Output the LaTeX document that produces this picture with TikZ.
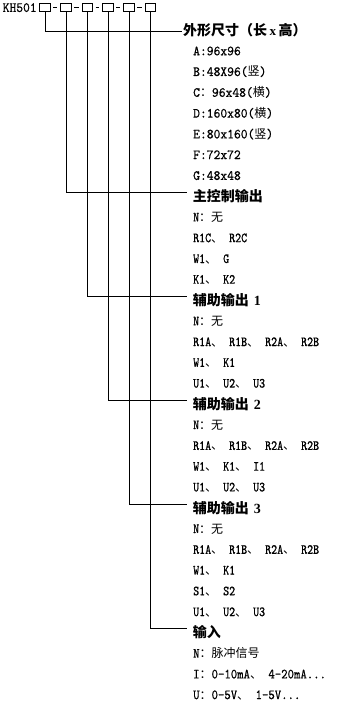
\documentclass[tikz,border=0pt]{standalone}
\usepackage{fontspec}
\newfontfamily\cjkf{Noto Sans CJK SC}
\newfontfamily\latA{lmmono10-regular.otf}[FakeStretch=0.925, FakeBold=0.6]
\newfontfamily\latB{lmmono10-regular.otf}[FakeStretch=0.816, FakeBold=0.6]
\newfontfamily\latC{lmmono10-regular.otf}[FakeStretch=0.871, FakeBold=0.6]
\newfontfamily\serb{Liberation Serif}
\newcommand\hz[1]{{\cjkf\fontsize{12}{12}\selectfont #1}}
\newcommand\bnum[1]{{\serb\bfseries\fontsize{14}{14}\selectfont #1}}
\tikzset{
  ln/.style={line width=1pt, line cap=rect},
  box/.style={draw, line width=1pt, minimum width=10.5pt, minimum height=8pt, inner sep=0pt},
  txa/.style={anchor=base west, inner sep=0pt, font=\latA\fontsize{14}{14}\selectfont},
  txb/.style={anchor=base west, inner sep=0pt, font=\latB\fontsize{14}{14}\selectfont},
  txc/.style={anchor=base west, inner sep=0pt, font=\latC\fontsize{14}{14}\selectfont},
  hd/.style={anchor=base west, inner sep=0pt, font=\cjkf\bfseries\fontsize{14}{14}\selectfont},
}
\begin{document}
\begin{tikzpicture}[x=1pt,y=-1pt]
\fill[white] (0,0) rectangle (339,708);
\useasboundingbox (0,0) rectangle (339,708);
% code line
\node[txa] (kh) at (2.5,11.9) {KH501};
\node[box] (b1) at (45,7.8) {};
\node[box] (b2) at (66,7.8) {};
\node[box] (b3) at (87.3,7.8) {};
\node[box] (b4) at (108,7.8) {};
\node[box] (b5) at (129,7.8) {};
\node[box] (b6) at (150.3,7.8) {};
\foreach \a/\b in {b1/b2,b2/b3,b3/b4,b4/b5,b5/b6}
  \draw[line width=1pt] ([xshift=2.5pt,yshift=0.5pt]\a.east) -- ([xshift=-3pt,yshift=0.5pt]\b.west);
% line ends
\coordinate (e1) at (181,31.5);
\coordinate (e2) at (186.7,192.8);
\coordinate (e3) at (186.7,296.6);
\coordinate (e4) at (186.7,400.5);
\coordinate (e5) at (186.7,504.3);
\coordinate (e6) at (186.7,628.9);
\draw[ln] (b1.south) |- (e1);
\draw[ln] (b2.south) |- (e2);
\draw[ln] (b3.south) |- (e3);
\draw[ln] (b4.south) |- (e4);
\draw[ln] (b5.south) |- (e5);
\draw[ln] (b6.south) |- (e6);
% group 1
\node[hd] (h1) at (183,35.6) {外形尺寸（长\hspace{2.5pt}{\serb\bfseries\fontsize{13}{13}\selectfont x}\hspace{2.5pt}高）};
\node[txa] (r1) at (193,55.3) {A:96x96};
\node[txa] (r2) at (193,76.0) {B:48X96(\hz{竖})};
\node[txa] (r3) at (193,96.8) {C\hz{：}96x48(\hz{横})};
\node[txa] (r4) at (193,117.6) {D:160x80(\hz{横})};
\node[txa] (r5) at (193,138.4) {E:80x160(\hz{竖})};
\node[txa] (r6) at (193,159.1) {F:72x72};
\node[txa] (r7) at (193,179.9) {G:48x48};
% group 2
\node[hd] (h2) at (192.7,201.8) {主控制输出};
\node[txb] (r9) at (193,221.4) {N\hz{：无}};
\node[txb] (r10) at (193,242.2) {R1C\hz{、} R2C};
\node[txb] (r11) at (193,263.0) {W1\hz{、} G};
\node[txb] (r12) at (193,283.7) {K1\hz{、} K2};
% group 3
\node[hd] (h3) at (192.7,305.6) {辅助输出\hspace{5pt}\bnum{1}};
\node[txb] (r14) at (193,325.3) {N\hz{：无}};
\node[txb] (r15) at (193,346.1) {R1A\hz{、} R1B\hz{、} R2A\hz{、} R2B};
\node[txb] (r16) at (193,366.8) {W1\hz{、} K1};
\node[txb] (r17) at (193,387.6) {U1\hz{、} U2\hz{、} U3};
% group 4
\node[hd] (h4) at (192.7,409.5) {辅助输出\hspace{5pt}\bnum{2}};
\node[txb] (r19) at (193,429.1) {N\hz{：无}};
\node[txb] (r20) at (193,449.9) {R1A\hz{、} R1B\hz{、} R2A\hz{、} R2B};
\node[txb] (r21) at (193,470.7) {W1\hz{、} K1\hz{、} I1};
\node[txb] (r22) at (193,491.4) {U1\hz{、} U2\hz{、} U3};
% group 5
\node[hd] (h5) at (192.7,513.3) {辅助输出\hspace{5pt}\bnum{3}};
\node[txb] (r24) at (193,533.0) {N\hz{：无}};
\node[txb] (r25) at (193,553.8) {R1A\hz{、} R1B\hz{、} R2A\hz{、} R2B};
\node[txb] (r26) at (193,574.5) {W1\hz{、} K1};
\node[txb] (r27) at (193,595.3) {S1\hz{、} S2};
\node[txb] (r28) at (193,616.1) {U1\hz{、} U2\hz{、} U3};
% group 6
\node[hd] (h6) at (192.7,637.9) {输入};
\node[txc] (r30) at (193,657.6) {N\hz{：脉冲信号}};
\node[txc] (r31) at (193,678.4) {I\hz{：}0-10mA\hz{、} 4-20mA...};
\node[txc] (r32) at (193,699.1) {U\hz{：}0-5V\hz{、} 1-5V...};
\end{tikzpicture}
\end{document}
